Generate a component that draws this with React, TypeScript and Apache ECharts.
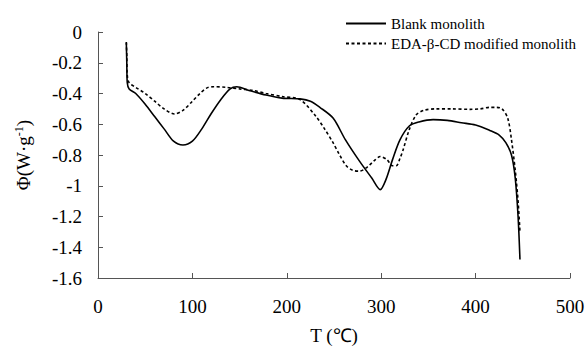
import React, { useEffect, useRef } from "react";
import * as echarts from "echarts";

const blankT = [30, 30.5, 31, 33, 40, 50, 60, 70, 80, 90, 100, 110, 120, 130, 140, 147, 160, 178, 195, 214, 225, 235, 249, 262, 277, 290, 299, 305, 312, 320, 330, 340, 355, 370, 385, 400, 415, 425, 432, 438, 442, 445, 447];
const blankPhi = [-0.07, -0.2, -0.33, -0.37, -0.4, -0.47, -0.55, -0.63, -0.71, -0.735, -0.71, -0.63, -0.53, -0.44, -0.37, -0.356, -0.38, -0.41, -0.43, -0.435, -0.45, -0.49, -0.56, -0.7, -0.84, -0.95, -1.025, -0.96, -0.83, -0.7, -0.61, -0.585, -0.57, -0.575, -0.59, -0.605, -0.64, -0.67, -0.72, -0.8, -0.95, -1.2, -1.48];

const modT = [30, 30.5, 31, 33, 40, 50, 60, 70, 81, 90, 100, 108, 115, 122, 136, 150, 164, 178, 195, 214, 231, 240, 249, 256, 263, 270, 277, 285, 292, 299, 306, 312, 316, 320, 323, 330, 337, 345, 358, 375, 394, 405, 415, 422, 428, 434, 438, 442, 445, 447];
const modPhi = [-0.065, -0.15, -0.28, -0.33, -0.36, -0.4, -0.45, -0.5, -0.533, -0.51, -0.45, -0.4, -0.365, -0.356, -0.36, -0.37, -0.38, -0.4, -0.42, -0.44, -0.55, -0.63, -0.72, -0.8, -0.87, -0.9, -0.905, -0.88, -0.84, -0.81, -0.83, -0.87, -0.87, -0.82, -0.77, -0.63, -0.54, -0.51, -0.5, -0.5, -0.503, -0.5, -0.49, -0.49, -0.5, -0.56, -0.7, -0.9, -1.1, -1.3];

const seriesNames = ["Blank monolith", "EDA-β-CD modified monolith"];

const FONT = "'Liberation Serif', 'Times New Roman', serif";

export default function App() {
  const ref = useRef<HTMLDivElement>(null);
  useEffect(() => {
    if (!ref.current) return;
    const chart = echarts.init(ref.current, undefined, { renderer: "svg" });
    const blankData = blankT.map((t, i) => [t, blankPhi[i]]);
    const modData = modT.map((t, i) => [t, modPhi[i]]);
    chart.setOption({
      animation: false,
      backgroundColor: "#ffffff",
      textStyle: { fontFamily: FONT, color: "#000" },
      grid: { left: 98, right: 18, top: 32, bottom: 74, containLabel: false },
      legend: {
        orient: "vertical",
        left: 340,
        top: 11,
        itemWidth: 40,
        itemHeight: 14,
        itemGap: 5,
        itemStyle: { opacity: 0 },
        textStyle: { fontFamily: FONT, fontSize: 15, color: "#000" },
        data: seriesNames,
      },
      xAxis: {
        type: "value",
        min: 0,
        max: 500,
        interval: 100,
        name: "T (℃)",
        nameLocation: "middle",
        nameGap: 48,
        nameTextStyle: { fontFamily: FONT, fontSize: 19, color: "#000" },
        axisLine: { show: true, onZero: false, lineStyle: { color: "#555", width: 1 } },
        axisTick: { show: true, inside: true, length: 5, lineStyle: { color: "#555" } },
        axisLabel: { fontFamily: FONT, fontSize: 19, color: "#000", margin: 19 },
        splitLine: { show: false },
      },
      yAxis: {
        type: "value",
        min: -1.6,
        max: 0,
        interval: 0.2,
        name: "Φ(W·g{sup|-1})",
        nameLocation: "middle",
        nameRotate: 90,
        nameGap: 64,
        nameTextStyle: {
          fontFamily: FONT,
          fontSize: 19,
          color: "#000",
          rich: { sup: { fontFamily: FONT, fontSize: 12, verticalAlign: "top", padding: [0, 0, 9, 0] } },
        },
        axisLine: { show: true, onZero: false, lineStyle: { color: "#555", width: 1 } },
        axisTick: { show: true, inside: true, length: 5, lineStyle: { color: "#555" } },
        axisLabel: { fontFamily: FONT, fontSize: 19, color: "#000", margin: 16 },
        splitLine: { show: false },
      },
      series: [
        {
          name: seriesNames[0],
          type: "line",
          data: blankData,
          smooth: 0.3,
          symbol: "none",
          lineStyle: { color: "#000", width: 1.6, type: "solid" },
          itemStyle: { color: "#000" },
        },
        {
          name: seriesNames[1],
          type: "line",
          data: modData,
          smooth: 0.3,
          symbol: "none",
          lineStyle: { color: "#000", width: 1.6, type: [3, 2.5] },
          itemStyle: { color: "#000" },
        },
      ],
    });
    return () => chart.dispose();
  }, []);
  return <div ref={ref} style={{ position: "fixed", left: 0, top: 0, width: 588, height: 352 }} />;
}
